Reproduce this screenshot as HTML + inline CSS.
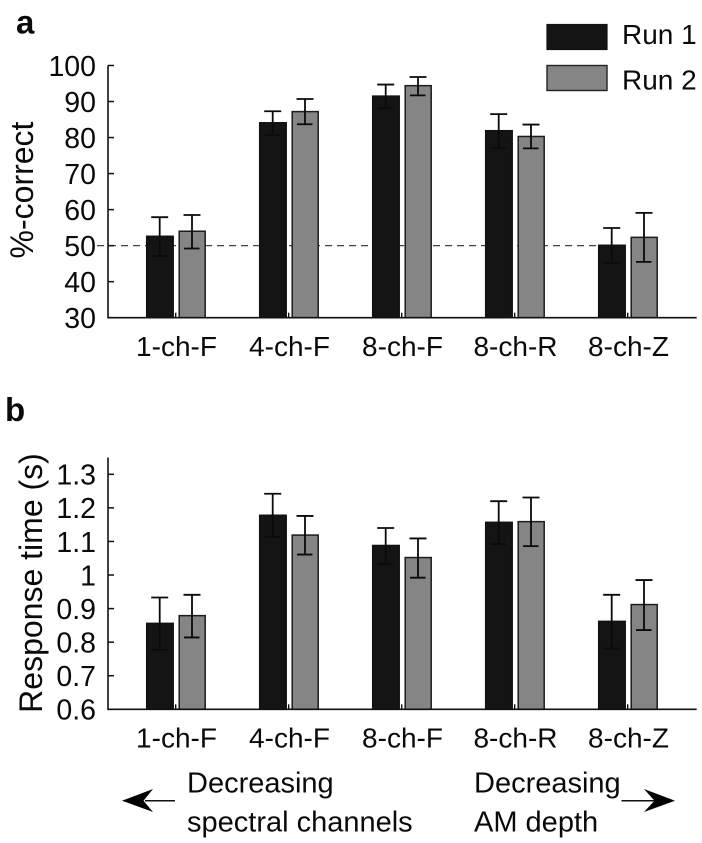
<!DOCTYPE html>
<html>
<head>
<meta charset="utf-8">
<title>Percent correct and response time by condition</title>
<style>
html,body{margin:0;padding:0;background:#fff;}
svg{display:block;}
text{font-family:"Liberation Sans",sans-serif;fill:#0a0a0a;}
</style>
</head>
<body>
<svg id="fig" xmlns="http://www.w3.org/2000/svg" width="702" height="843" viewBox="0 0 702 843">
  <text x="16" y="33.5" font-size="33" font-weight="700">a</text>
  <text x="5" y="421" font-size="33" font-weight="700">b</text>

  <g>
    <rect x="547" y="24.5" width="60" height="25" fill="#141414" stroke="#111" stroke-width="1.2"/>
    <text x="622" y="44" font-size="28">Run 1</text>
    <rect x="547" y="65.5" width="60" height="25" fill="#858585" stroke="#222" stroke-width="1.4"/>
    <text x="622" y="89.5" font-size="28">Run 2</text>
  </g>

  <text transform="translate(33,190) rotate(-90)" text-anchor="middle" font-size="32">%-correct</text>
  <text transform="translate(42,583) rotate(-90)" text-anchor="middle" font-size="32">Response time (s)</text>

  <g id="panelA"></g>
  <g id="panelB"></g>

  <g>
    <text x="187" y="792.5" font-size="29">Decreasing</text>
    <text x="187" y="831.5" font-size="29">spectral channels</text>
    <line x1="145" y1="800.7" x2="175" y2="800.7" stroke="#111" stroke-width="1.5"/>
    <path d="M122 800.7 L153 789 L143.5 800.7 L153 812 Z" fill="#000"/>
  </g>
  <g>
    <text x="474" y="792.5" font-size="29">Decreasing</text>
    <text x="474" y="831.5" font-size="29">AM depth</text>
    <line x1="621.5" y1="800.7" x2="656" y2="800.7" stroke="#111" stroke-width="1.5"/>
    <path d="M675 800.7 L644 789 L654.5 800.7 L644 812 Z" fill="#000"/>
  </g>
</svg>
<script>
const categories = ['1-ch-F', '4-ch-F', '8-ch-F', '8-ch-R', '8-ch-Z'];

const correctTicks = [30, 40, 50, 60, 70, 80, 90, 100];
const correctTickLabels = ['30', '40', '50', '60', '70', '80', '90', '100'];
const correctRun1 = [52.6, 84.1, 91.5, 81.9, 50.1];
const correctRun1High = [57.9, 87.3, 94.7, 86.5, 54.9];
const correctRun1Low = [47.1, 80.7, 88.1, 77.0, 45.2];
const correctRun2 = [54.0, 87.2, 94.4, 80.3, 52.3];
const correctRun2High = [58.5, 90.7, 96.8, 83.6, 59.1];
const correctRun2Low = [49.2, 83.7, 91.7, 77.0, 45.5];
const chanceLevel = 50;

const timeTicks = [0.6, 0.7, 0.8, 0.9, 1.0, 1.1, 1.2, 1.3];
const timeTickLabels = ['0.6', '0.7', '0.8', '0.9', '1', '1.1', '1.2', '1.3'];
const timeRun1 = [0.856, 1.178, 1.088, 1.157, 0.862];
const timeRun1High = [0.933, 1.242, 1.140, 1.220, 0.941];
const timeRun1Low = [0.777, 1.114, 1.032, 1.092, 0.781];
const timeRun2 = [0.879, 1.119, 1.052, 1.159, 0.912];
const timeRun2High = [0.941, 1.176, 1.109, 1.231, 0.985];
const timeRun2Low = [0.814, 1.061, 0.992, 1.086, 0.836];

const NS = 'http://www.w3.org/2000/svg';
function make(parent, tag, attrs, text) {
  const el = document.createElementNS(NS, tag);
  for (const k in attrs) el.setAttribute(k, attrs[k]);
  if (text !== undefined) el.textContent = text;
  parent.appendChild(el);
  return el;
}
const xLeft = 108, xRight = 696.7;
function groupX(i) { return 175.7 + 113 * i; }

function drawPanel(root, cfg) {
  const y = v => cfg.yBase - (v - cfg.vMin) * cfg.scale;

  if (cfg.chance !== undefined) {
    const dash = make(root, 'line', {x1: 97, x2: 597, y1: y(cfg.chance), y2: y(cfg.chance), stroke: '#444', 'stroke-width': 1.3, 'stroke-dasharray': '7 5'});
    
    
  }

  const series = [
    {vals: cfg.run1, hi: cfg.run1High, lo: cfg.run1Low, fill: '#141414', stroke: '#111', x0: -29, x1: -2.5, ex: -16, name: 'run-1'},
    {vals: cfg.run2, hi: cfg.run2High, lo: cfg.run2Low, fill: '#858585', stroke: '#1c1c1c', x0: 3.5, x1: 29.5, ex: 16.3, name: 'run-2'}
  ];

  categories.forEach((cat, i) => {
    const cx = groupX(i);
    const tick = make(root, 'line', {x1: cx, x2: cx, y1: cfg.yBase - 5, y2: cfg.yBase, stroke: '#111', 'stroke-width': 1.4});
    
    

    series.forEach(s => {
      const top = y(s.vals[i]);
      const bar = make(root, 'rect', {x: cx + s.x0, y: top, width: s.x1 - s.x0, height: cfg.yBase - top, fill: s.fill, stroke: s.stroke, 'stroke-width': 1.5});
      
      

      const ex = cx + s.ex, yh = y(s.hi[i]), yl = y(s.lo[i]);
      const err = make(root, 'path', {d: 'M' + ex + ' ' + yh + 'V' + yl + 'M' + (ex - 8.5) + ' ' + yh + 'H' + (ex + 8.5) + 'M' + (ex - 8) + ' ' + yl + 'H' + (ex + 7.5), fill: 'none', stroke: '#0a0a0a', 'stroke-width': 1.8});
      
      
    });

    const lab = make(root, 'text', {x: cx + 0.8, y: cfg.catY, 'text-anchor': 'middle', 'font-size': 28}, cat);
    
    
  });

  const xAxis = make(root, 'line', {x1: xLeft - 0.7, x2: xRight, y1: cfg.yBase, y2: cfg.yBase, stroke: '#111', 'stroke-width': 1.6});
  
  

  const yAxis = make(root, 'line', {x1: xLeft, x2: xLeft, y1: y(cfg.vTop), y2: cfg.yBase, stroke: '#111', 'stroke-width': 1.6});
  
  

  cfg.ticks.forEach((t, i) => {
    const ty = y(t);
    const tk = make(root, 'line', {x1: xLeft, x2: xLeft + 6, y1: ty, y2: ty, stroke: '#111', 'stroke-width': 1.5});
    
    
    const lb = make(root, 'text', {x: 96, y: ty + 10.3, 'text-anchor': 'end', 'font-size': 28.5}, cfg.tickLabels[i]);
    
    
  });
}

drawPanel(document.getElementById('panelA'), {
  yBase: 317.7, vMin: 30, vTop: 100, scale: 3.603, catY: 356,
  ticks: correctTicks, tickLabels: correctTickLabels,
  run1: correctRun1, run1High: correctRun1High, run1Low: correctRun1Low,
  run2: correctRun2, run2High: correctRun2High, run2Low: correctRun2Low,
  chance: chanceLevel
});
drawPanel(document.getElementById('panelB'), {
  yBase: 709.3, vMin: 0.6, vTop: 1.35, scale: 335.7, catY: 747.7,
  ticks: timeTicks, tickLabels: timeTickLabels,
  run1: timeRun1, run1High: timeRun1High, run1Low: timeRun1Low,
  run2: timeRun2, run2High: timeRun2High, run2Low: timeRun2Low
});
</script>
</body>
</html>
